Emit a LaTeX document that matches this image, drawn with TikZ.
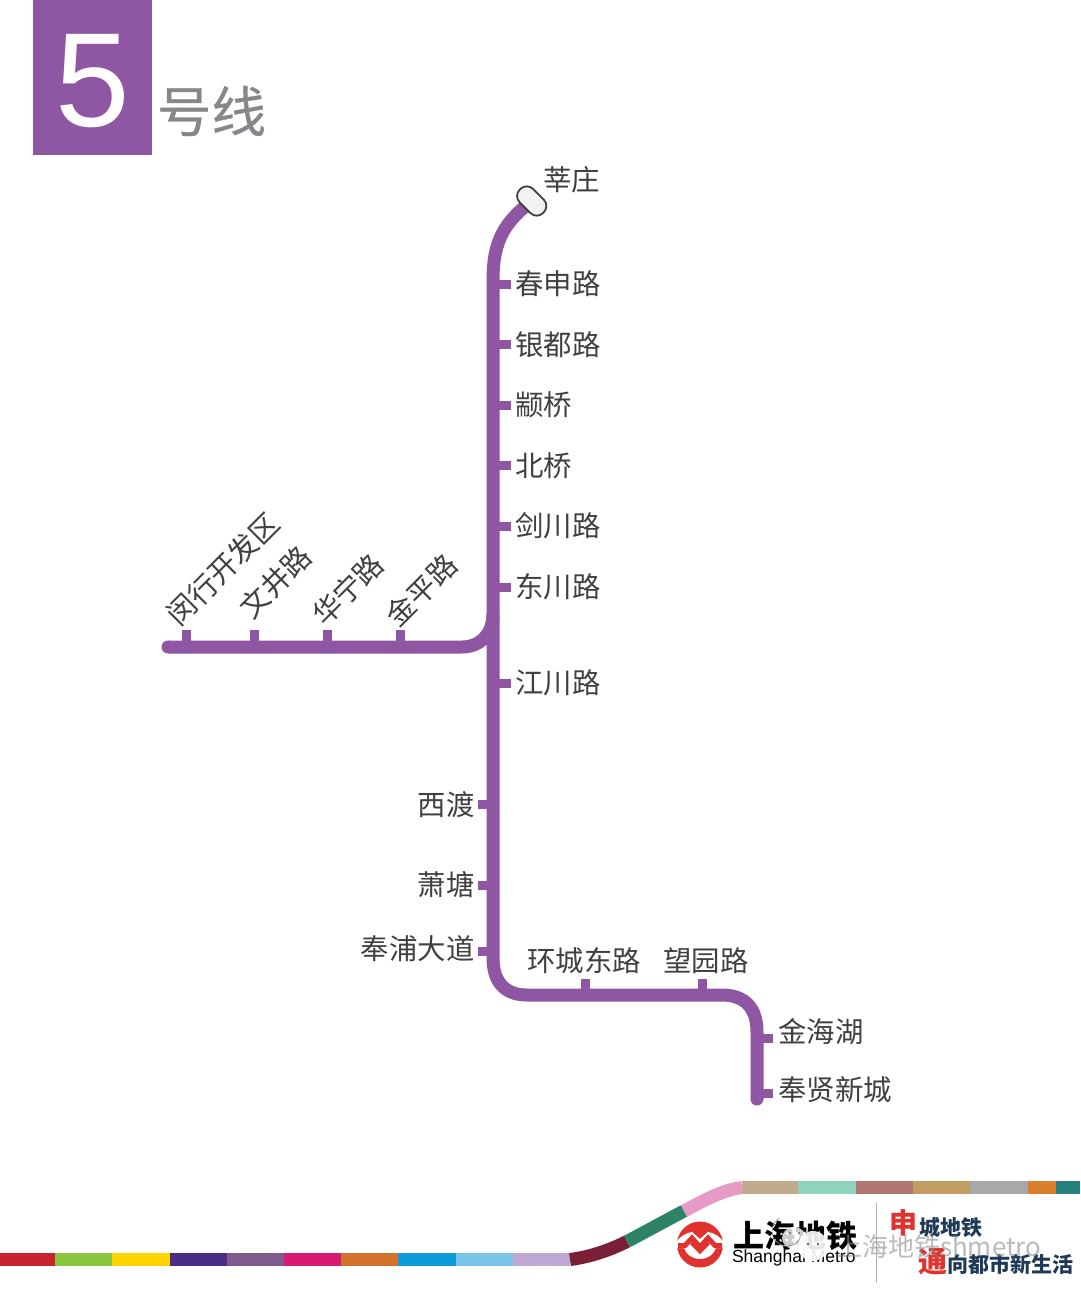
\documentclass[tikz,border=0pt]{standalone}
\usepackage{fontspec}
\setmainfont{Liberation Sans}
\newfontfamily\cjk{Noto Sans CJK SC}
\newfontfamily\cjkh[FakeBold=0.5]{Noto Sans CJK SC}
\usetikzlibrary{calc}
\definecolor{lineP}{HTML}{8F56A3}
\definecolor{txt}{HTML}{404040}
\definecolor{red1}{HTML}{E0322F}
\definecolor{navy}{HTML}{1F3A56}
\definecolor{titlegray}{HTML}{85878A}
\tikzset{
  x=1pt,y=-1pt,
  metro/.style={line width=13pt,draw=lineP,line cap=butt},
  tick/.style={line width=9pt,draw=lineP},
  stn/.style={inner sep=0pt,outer sep=0pt,text=txt,font=\cjk\fontsize{28.4}{28.4}\selectfont},
  stnR/.style={stn,anchor=west},
  stnL/.style={stn,anchor=east},
  stnT/.style={stn,font=\cjk\fontsize{28.8}{28.8}\selectfont,rotate=45},
  band/.style={line width=13pt,line cap=butt},
  lbl/.style={inner sep=0pt,outer sep=0pt},
}
\begin{document}
\begin{tikzpicture}
\useasboundingbox (0,0) rectangle (1080,1295);
\fill[white] (0,0) rectangle (1080,1295);
% header
\fill[lineP] (33,0) rectangle (151.5,155);
\node[lbl,text=white,font=\fontsize{134}{134}\selectfont] (five) at (93,81) {5};
\node[lbl,text=titlegray,font=\cjkh\fontsize{54.5}{54.5}\selectfont,anchor=west] (hao) at (157,111) {号线};
% main line
\coordinate (termc) at (531.7,201);
\coordinate (m1) at (493,280);
\coordinate (m2) at (493,958);
\coordinate (m3) at (527,995);
\coordinate (m4) at (722,995);
\coordinate (m5) at (757,1032);
\coordinate (m6) at (757,1099);
\coordinate (b0) at (168,647);
\coordinate (b1) at (462,647);
\coordinate (b2) at (493,614);
% ticks
\foreach \n/\y/\t in {a/284/春申路,b/344.5/银都路,c/405/颛桥,d/465.5/北桥,e/526/剑川路,f/587/东川路,g/683/江川路}{
  \coordinate (on\n) at (493,\y);
  \coordinate (end\n) at (511,\y);
  \draw[tick] (on\n) -- (end\n);
  \node[stnR] (lab\n) at (515.5,\y) {\t};
}
\foreach \n/\y/\t in {h/804/西渡,i/885/萧塘,j/951/奉浦大道}{
  \coordinate (on\n) at (493,\y);
  \coordinate (end\n) at (478,\y);
  \draw[tick] (on\n) -- (end\n);
}
\node[stnL] (labh) at (474.5,804.5) {西渡};
\node[stnL] (labi) at (474.5,885) {萧塘};
\node[stnL] (labj) at (474.5,949) {奉浦大道};
\foreach \n/\x/\cx/\cy/\t in {k/186/223/569/闵行开发区,l/254/275.5/582/文井路,m/327/348/589.5/华宁路,n/400/421.5/590/金平路}{
  \coordinate (on\n) at (\x,647);
  \coordinate (end\n) at (\x,630);
  \draw[tick] (on\n) -- (end\n);
  \node[stnT] (lab\n) at (\cx,\cy) {\t};
}
\foreach \n/\x/\lx/\t in {o/585/584/环城东路,p/702/706/望园路}{
  \coordinate (on\n) at (\x,995);
  \coordinate (end\n) at (\x,979);
  \draw[tick] (on\n) -- (end\n);
  \node[stn] (lab\n) at (\lx,961) {\t};
}
\foreach \n/\y/\ly/\t in {q/1038/1032/金海湖,r/1093/1090/奉贤新城}{
  \coordinate (on\n) at (757,\y);
  \coordinate (end\n) at (773,\y);
  \draw[tick] (on\n) -- (end\n);
  \node[stnR] (lab\n) at (778.5,\ly) {\t};
}
\draw[metro] (termc) .. controls (505,222) and (493,240) .. (m1) -- (m2)
  .. controls (493,982) and (505,995) .. (m3) -- (m4)
  .. controls (745,995) and (757,1008) .. (m5) -- (m6);
\fill[lineP] (m6) circle (6.5);
\draw[metro] (b0) -- (b1) .. controls (480,647) and (493,634) .. (b2);
\fill[lineP] (b0) circle (6.5);
% terminal
\node[draw=txt,line width=1.8pt,fill=black!5,rotate=-45,minimum width=33pt,minimum height=19pt,rounded corners=9pt,inner sep=0pt] (term) at (termc) {};
\node[stn,anchor=west] (labt) at (543.5,180) {莘庄};
% bottom band
\foreach \a/\b/\c in {0/55/C8242F,55/112/8CC63F,112/170/FFD500,170/227/4B2E83,227/284/7F5A8C,284/341/D81B72,341/398/D2722D,398/456/0E9BD8,456/513/78C5E8,513/570/BFA8D6}{
  \definecolor{bc}{HTML}{\c}
  \fill[bc] (\a,1253) rectangle (\b,1266);
}
\coordinate (c0) at (570,1259.5);
\coordinate (c1) at (627,1241.5);
\coordinate (c2) at (684,1211);
\coordinate (c3) at (742,1187.5);
\definecolor{bc}{HTML}{7A1F35}
\draw[band,bc] (c0) .. controls (590,1257) and (610,1250) .. (c1);
\definecolor{bc}{HTML}{2E8268}
\draw[band,bc] (c1) .. controls (645,1232) and (665,1221) .. (c2);
\definecolor{bc}{HTML}{E89AC7}
\draw[band,bc] (c2) .. controls (703,1201) and (722,1190) .. (c3);
\foreach \a/\b/\c in {742/798/C2AB8C,798/856/8FD3BE,856/913/B27670,913/970/C29D63,970/1028/A7A8AA,1028/1056/D97F2B,1056/1080/268080}{
  \definecolor{bc}{HTML}{\c}
  \fill[bc] (\a,1181) rectangle (\b,1193.5);
}
% logo
\fill[red1] (700,1244.5) circle (23);
\fill[white] (677,1241) .. controls (681,1236) and (686,1233) .. (692,1232) -- (700,1239) -- (708,1232) .. controls (714,1233) and (719,1236) .. (723,1241) -- (723,1248) -- (716,1248) .. controls (714,1254) and (708,1259) .. (700,1259) .. controls (692,1259) and (686,1254) .. (684,1248) -- (677,1248) -- cycle;
\draw[red1,line width=5pt,line join=miter] (678,1245.5) -- (685,1245.5) -- (692,1238) -- (700,1247) -- (708,1238) -- (715,1245.5) -- (722,1245.5);
\fill[red1] (693,1241) -- (700,1249) -- (707,1241) -- (710,1244) -- (700,1254) -- (690,1244) -- cycle;
\node[lbl,anchor=west,font=\cjk\bfseries\fontsize{31}{31}\selectfont] (sm) at (733,1236) {上海地铁};
\node[lbl,anchor=west,font=\fontsize{17.5}{17.5}\selectfont] (sme) at (732,1258) {Shanghai Metro};
\coordinate (v0) at (876,1203);
\coordinate (v1) at (876,1283);
\draw[black!30,line width=0.8pt] (v0) -- (v1);
\node[lbl,anchor=west,text=red1,font=\cjk\bfseries\fontsize{28}{28}\selectfont] (shen) at (889,1223) {申};
\node[lbl,anchor=west,text=navy,font=\cjk\bfseries\fontsize{21}{21}\selectfont] (sl1) at (919,1227) {城地铁};
\node[lbl,anchor=west,text=red1,font=\cjk\bfseries\fontsize{29}{29}\selectfont] (tong) at (918,1262) {通};
\node[lbl,anchor=west,text=navy,font=\cjk\bfseries\fontsize{21}{21}\selectfont] (sl2) at (947,1264) {向都市新生活};
% watermark
\fill[white,opacity=.8] (794,1238) ellipse (12 and 11);
\fill[white,opacity=.9] (813,1246) circle (15);
\draw[black!45,line width=.6pt] (813,1246) ++(-150:15) arc (-150:60:-15);
\fill[black!60] (790,1233) circle (1.2) (799,1233) circle (1.2) (808,1244) circle (1.4) (818,1244) circle (1.4);
\node[lbl,anchor=west,text=black!45,opacity=.6,font=\cjk\fontsize{26}{26}\selectfont] (wm) at (836,1247) {上海地铁shmetro};
\end{tikzpicture}
\end{document}
